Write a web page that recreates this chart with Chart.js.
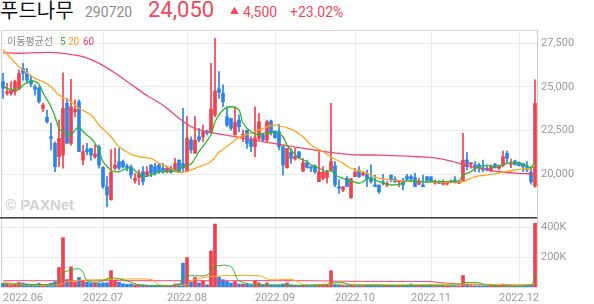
<!DOCTYPE html>
<html>
<head>
<meta charset="utf-8">
<script src="https://cdn.jsdelivr.net/npm/chart.js@4.4.1/dist/chart.umd.min.js"></script>
<style>
  html, body { margin: 0; padding: 0; background: #fff; }
  body { width: 594px; height: 304px; position: relative; overflow: hidden; font-family: Roboto, "Noto Sans CJK KR", sans-serif; }
  .abs { position: absolute; white-space: nowrap; line-height: 1; }
  #priceBox { position: absolute; left: 0; top: 30px; width: 594px; height: 187px; z-index: 1; }
  #volBox { position: absolute; left: 0; top: 217px; width: 594px; height: 87px; z-index: 1; }
  .over { z-index: 2; }
</style>
</head>
<body>
<div class="abs" style="left:0;top:0;font-size:20px;font-family:'Noto Sans CJK KR';color:#111">푸드나무</div>
<div class="abs" style="left:85px;top:5px;font-size:14px;color:#8c8c8c">290720</div>
<div class="abs" style="left:148px;top:-1px;font-size:22px;color:#f0475a">24,050</div>
<div class="abs" style="left:230px;top:7px;font-size:9px;color:#f0475a">▲</div>
<div class="abs" style="left:243px;top:5px;font-size:14px;color:#f0475a">4,500</div>
<div class="abs" style="left:290px;top:5px;font-size:14px;color:#f0475a">+23.02%</div>

<div class="abs" style="left:5px;top:197px;font:bold 15px/1 'Liberation Sans';color:#d2d2d2">© PAXNet</div>

<div id="priceBox"><canvas id="price" width="594" height="187"></canvas></div>
<div id="volBox"><canvas id="volume" width="594" height="87"></canvas></div>

<div class="abs over" style="left:7px;top:36px;font-size:10px;font-family:'Noto Sans CJK KR';color:#8c8c8c">이동평균선</div>
<div class="abs over" style="left:60px;top:37px;font-size:10px;color:#2fb52f">5</div>
<div class="abs over" style="left:68px;top:37px;font-size:10px;color:#ffa51f">20</div>
<div class="abs over" style="left:83px;top:37px;font-size:10px;color:#ee3b6a">60</div>

<script>
// 월 눈금 (거래일 인덱스)
const monthLabels = ['2022.06', '2022.07', '2022.08', '2022.09', '2022.10', '2022.11', '2022.12'];
const monthStart = [5, 25, 46, 68, 88, 107, 129];
const priceTicks = [20000, 22500, 25000, 27500];
const volumeTicks = [200000, 400000];

// 일봉 (시가/고가/저가/종가)
const openP = [25300, 24630, 24630, 24720, 24920, 26070, 25780, 25390, 25010, 24920,
  23770, 23250, 22140, 21760, 20990, 21090, 24060, 21760, 23570, 24150,
  20800, 21420, 21470, 20990, 21570, 20380, 19270, 18510, 20330, 20710,
  20710, 20460, 20420, 19620, 19790, 20130, 19940, 20520, 20420, 20520,
  20330, 20130, 20330, 20230, 20800, 20600, 20130, 21950, 21190, 22140,
  22140, 22470, 22430, 23390, 24880, 24630, 23290, 23200, 22240, 23100,
  22140, 22520, 21950, 21570, 22050, 22240, 21950, 23040, 22470, 22430,
  21570, 20360, 21250, 20860, 21280, 20170, 20650, 20420, 20460, 19560,
  19750, 19790, 20230, 20460, 19270, 19080, 19750, 18640, 19850, 20170,
  19940, 19980, 19790, 19370, 19370, 19560, 19370, 19940, 19710, 19560,
  19660, 19850, 19850, 19790, 19410, 19370, 19850, 19830, 19470, 19560,
  19410, 19410, 19520, 19660, 19470, 19560, 20800, 20560, 20520, 20520,
  20360, 20330, 20170, 20560, 20330, 20480, 21190, 20560, 20750, 20670,
  20610, 20420, 20100, 19300];
const highP = [25780, 25200, 25300, 25390, 25970, 26350, 26070, 25680, 25110, 25010,
  24060, 23670, 22910, 21850, 23100, 25810, 24340, 25430, 24250, 24250,
  21660, 21760, 21470, 21660, 21660, 20420, 19850, 21400, 21470, 21470,
  20800, 20570, 20520, 20040, 20230, 20420, 20420, 20520, 20610, 20610,
  20610, 20460, 20460, 20900, 20800, 23770, 23290, 22140, 23290, 22620,
  22810, 22520, 26350, 27790, 25870, 25110, 23860, 23200, 23860, 23390,
  22520, 22520, 22140, 23860, 23480, 22340, 23100, 23100, 22470, 22850,
  21570, 21470, 21470, 21470, 21280, 20900, 20800, 20420, 20520, 21280,
  20420, 20230, 24060, 20710, 19660, 19270, 19850, 19750, 20330, 20420,
  20110, 20230, 20520, 19940, 19370, 19980, 19560, 19940, 19850, 19640,
  19750, 19980, 19940, 20040, 19750, 19940, 19850, 19850, 19660, 19620,
  19660, 19600, 19660, 19850, 19620, 22340, 21250, 20650, 20710, 20610,
  20800, 20520, 20520, 20610, 20520, 21320, 21320, 20860, 20800, 20700,
  20610, 20710, 20420, 25400];
const lowP = [24340, 24530, 24530, 24530, 24820, 25390, 25200, 25010, 24530, 24060,
  23570, 22910, 21380, 20130, 20420, 20330, 21760, 21660, 23290, 21280,
  20520, 21090, 20800, 20900, 20330, 19180, 18120, 18510, 20230, 20230,
  20330, 20170, 19750, 19470, 19370, 19370, 19850, 19850, 19940, 20040,
  20040, 20060, 20040, 20230, 20130, 20130, 20130, 21190, 21190, 21850,
  21850, 22240, 22340, 23290, 24340, 23860, 22710, 22520, 22240, 22430,
  21850, 21470, 21280, 20990, 21950, 21850, 21850, 22240, 22050, 21380,
  19940, 20330, 20610, 20800, 20900, 20130, 20330, 20130, 20040, 19560,
  19660, 19470, 20130, 19270, 18890, 18980, 19270, 18600, 19850, 19790,
  19890, 19270, 19470, 19270, 18890, 19370, 19270, 19560, 19520, 19270,
  19080, 19660, 19560, 19270, 19370, 19270, 19560, 19540, 19410, 19440,
  19370, 19380, 19490, 19470, 19440, 19560, 20230, 20330, 20130, 20100,
  20130, 20170, 20130, 20330, 20230, 20420, 20610, 20360, 20520, 20460,
  20130, 20130, 19410, 19250];
const closeP = [24920, 24720, 24820, 25300, 25780, 25780, 25390, 25160, 24860, 24150,
  23960, 23000, 22050, 20420, 22050, 23770, 21760, 23860, 23710, 21280,
  21280, 21280, 21090, 21150, 20520, 19270, 18800, 20100, 20520, 20330,
  20420, 20370, 19940, 19750, 20040, 19560, 20130, 20040, 20040, 20130,
  20130, 20330, 20130, 20610, 20130, 20350, 22050, 21380, 21950, 21950,
  22430, 22340, 23730, 24760, 24690, 24150, 22810, 22620, 22970, 22710,
  22280, 21760, 21570, 22080, 23000, 21950, 23000, 22340, 22080, 21570,
  20520, 21470, 20900, 20990, 20940, 20650, 20360, 20330, 20130, 20130,
  20100, 20130, 20710, 19370, 19180, 19270, 19270, 19710, 20100, 19850,
  20040, 19750, 19560, 19270, 18980, 19470, 19470, 19660, 19560, 19640,
  19370, 19710, 19710, 19270, 19600, 19270, 19560, 19600, 19600, 19470,
  19560, 19560, 19600, 19520, 19560, 20800, 20420, 20650, 20330, 20360,
  20230, 20230, 20420, 20360, 20460, 20990, 20900, 20610, 20520, 20480,
  20420, 20230, 19550, 24050];

// 거래량
const volume = [24000, 18000, 15000, 20000, 30000, 26000, 20000, 16000, 14000, 24000,
  12000, 18000, 26000, 35000, 131000, 331000, 50000, 135000, 33000, 64000,
  42000, 31000, 27000, 25000, 24000, 28000, 28000, 109000, 42000, 31000,
  22000, 18000, 20000, 15000, 15000, 14000, 12000, 10000, 10000, 10000,
  10000, 12000, 10000, 20000, 22000, 160000, 197000, 33000, 64000, 27000,
  42000, 15000, 242000, 422000, 67000, 49000, 37000, 27000, 37000, 20000,
  20000, 20000, 15000, 42000, 27000, 15000, 27000, 15000, 15000, 15000,
  20000, 27000, 15000, 12000, 12000, 14000, 10000, 9000, 10000, 15000,
  12000, 12000, 109000, 20000, 15000, 10000, 10000, 12000, 10000, 9000,
  8000, 12000, 12000, 10000, 14000, 8000, 7000, 9000, 7000, 7000,
  9000, 7000, 20000, 10000, 8000, 8000, 7000, 6000, 6000, 6000,
  5000, 6000, 6000, 6000, 6000, 77000, 15000, 9000, 8000, 8000,
  7000, 6000, 7000, 6000, 6000, 20000, 10000, 7000, 6000, 6000,
  6000, 7000, 12000, 427000];

// 이동평균선 (그림에서 읽은 값: [거래일 인덱스, 값])
const ma5 = [[0, 25010], [2, 24860], [4, 24850], [5, 25110], [7, 25350], [8, 25300], [9, 25160], [10, 24660],
  [12, 23860], [13, 23290], [14, 22620], [15, 22430], [17, 22240], [18, 22520], [19, 22710], [20, 22430],
  [22, 22050], [23, 21760], [24, 21380], [25, 20710], [27, 20230], [28, 20130], [29, 20130], [30, 20230],
  [32, 20380], [33, 20190], [34, 20000], [35, 19850], [37, 19940], [39, 20130], [42, 20130], [44, 20230],
  [45, 20420], [47, 20570], [49, 21280], [52, 22250], [53, 23000], [55, 23670], [57, 23860], [59, 23670],
  [60, 22910], [62, 22430], [64, 22240], [65, 22340], [67, 22360], [68, 22430], [70, 22140], [71, 21660],
  [72, 21380], [74, 20900], [76, 20710], [77, 20520], [79, 20330], [81, 20130], [82, 20230], [83, 19940],
  [85, 19750], [87, 19600], [89, 19470], [90, 19560], [91, 19710], [92, 19750], [94, 19560], [96, 19410],
  [97, 19370], [99, 19410], [101, 19600], [102, 19600], [104, 19560], [106, 19520], [107, 19560], [112, 19560],
  [114, 19600], [115, 19940], [117, 20130], [118, 20330], [120, 20480], [122, 20460], [123, 20420], [126, 20610],
  [127, 20670], [129, 20610], [131, 20480], [132, 20360], [133, 20710]];
const ma20 = [[0, 27150], [2, 26640], [4, 26160], [6, 25810], [8, 25490], [10, 25300], [12, 25010], [14, 24530],
  [17, 24150], [19, 23770], [22, 23390], [24, 22810], [27, 22140], [29, 21570], [32, 21150], [34, 20990],
  [37, 20900], [39, 20610], [42, 20330], [44, 20080], [47, 20230], [49, 20420], [52, 20700], [54, 21250],
  [57, 21750], [59, 22100], [62, 22340], [64, 22520], [67, 22770], [68, 22810], [72, 22580], [75, 22140],
  [77, 21660], [80, 21280], [82, 20990], [85, 20610], [87, 20330], [90, 20130], [92, 19940], [94, 19750],
  [97, 19660], [101, 19600], [104, 19560], [112, 19520], [115, 19560], [118, 19850], [122, 19980], [125, 20100],
  [128, 20230], [132, 20330], [133, 20520]];
const ma60 = [[0, 26960], [4, 26930], [8, 26960], [12, 26980], [16, 26890], [20, 26730], [24, 26350], [28, 25800],
  [32, 25150], [36, 24500], [40, 23950], [44, 23200], [48, 22600], [52, 22380], [56, 22220], [60, 22060],
  [64, 21900], [68, 21740], [72, 21590], [76, 21440], [80, 21300], [84, 21180], [88, 21100], [92, 21090],
  [96, 21070], [100, 21040], [104, 20990], [108, 20920], [112, 20740], [116, 20480], [120, 20290], [124, 20130],
  [128, 20050], [133, 20000]];

// 거래량 이동평균
const vma5 = [[0, 22000], [13, 20000], [14, 49000], [15, 93000], [17, 115000], [19, 122000], [20, 100000], [21, 42000],
  [24, 33000], [27, 62000], [31, 42000], [34, 15000], [44, 15000], [45, 69000], [47, 75000], [51, 80000],
  [53, 137000], [57, 137000], [59, 42000], [64, 15000], [81, 15000], [82, 30000], [85, 30000], [87, 13000],
  [114, 13000], [115, 28000], [119, 28000], [121, 12000], [132, 12000], [133, 93000]];
const vma20 = [[0, 33000], [5, 15000], [14, 15000], [16, 35000], [19, 45000], [24, 49000], [37, 51000], [39, 15000],
  [46, 15000], [47, 42000], [52, 71000], [64, 75000], [67, 49000], [72, 51000], [74, 33000], [75, 15000],
  [82, 20000], [99, 15000], [117, 20000], [132, 14000], [133, 28000]];
const vma60 = [[0, 42000], [25, 42000], [50, 42000], [75, 42000], [82, 40000], [90, 38000], [107, 36000],
  [110, 27000], [115, 20000], [118, 15000], [132, 15000], [133, 22000]];

const upColor = '#f2404f';
const downColor = '#2b84e8';
const ma5Color = '#2fb52f';
const ma20Color = '#ffa51f';
const ma60Color = '#f2476a';

const idx = openP.map((_, i) => i);
const candleColors = idx.map(i => (closeP[i] >= openP[i] ? upColor : downColor));
const wickData = idx.map(i => ({ x: i, y: [lowP[i], highP[i]] }));
const bodyData = idx.map(i => ({ x: i, y: [openP[i], closeP[i]] }));
const volData = idx.map(i => ({ x: i, y: volume[i] }));
const toPts = arr => arr.map(([x, y]) => ({ x, y }));

function lineSet(points, color, width) {
  return {
    type: 'line', data: toPts(points), borderColor: color, borderWidth: width,
    pointRadius: 0, tension: 0.3, order: 0
  };
}

function monthAxis(showLabels) {
  return {
    type: 'linear', min: -0.5, max: 133.5, offset: false,
    afterBuildTicks: s => { s.ticks = monthStart.map(v => ({ value: v })); },
    ticks: {
      display: showLabels, autoSkip: false, maxRotation: 0, padding: 5,
      color: '#9a9a9a', font: { family: 'Roboto', size: 11 },
      callback: v => monthLabels[monthStart.indexOf(v)]
    },
    grid: { color: '#ececec', drawTicks: false, offset: false },
    border: { display: showLabels, color: '#dcdcdc' },
    afterFit: s => { s.height = showLabels ? 17 : 0; s.paddingLeft = 0; s.paddingRight = 0; }
  };
}

function rightAxis(min, max, ticks, fmt) {
  return {
    position: 'right', min: min, max: max,
    afterBuildTicks: s => { s.ticks = ticks.map(v => ({ value: v })); },
    ticks: { color: '#9a9a9a', font: { family: 'Roboto', size: 11 }, padding: 4, callback: fmt },
    grid: { color: '#ececec', drawTicks: false },
    border: { display: true, color: '#c9c9c9' },
    afterFit: s => { s.width = 57; s.paddingTop = 0; s.paddingBottom = 0; }
  };
}

// 차트 영역 테두리 + 구분선
const framePlugin = {
  id: 'frame',
  beforeDatasetsDraw(chart, args, opts) {
    const { ctx, chartArea: a } = chart;
    ctx.save();
    ctx.strokeStyle = '#d3d3d3';
    ctx.lineWidth = 1;
    ctx.beginPath();
    ctx.moveTo(a.left + 0.5, a.top);
    ctx.lineTo(a.left + 0.5, a.bottom);
    if (opts.top) {
      ctx.moveTo(a.left, a.top + 0.5);
      ctx.lineTo(a.right, a.top + 0.5);
    }
    ctx.stroke();
    ctx.restore();
  },
  afterDatasetsDraw(chart, args, opts) {
    if (!opts.separator) return;
    const { ctx, chartArea: a } = chart;
    ctx.save();
    ctx.fillStyle = '#444';
    ctx.fillRect(0, a.top, a.right, 1.6);
    ctx.restore();
  }
};

const common = {
  responsive: false,
  animation: false,
  layout: { padding: { left: 1, right: 0, top: 0, bottom: 0 } },
  plugins: { legend: { display: false }, tooltip: { enabled: false } }
};

new Chart(document.getElementById('price').getContext('2d'), {
  type: 'bar',
  data: {
    datasets: [
      lineSet(ma5, ma5Color, 1.3),
      lineSet(ma20, ma20Color, 1.3),
      lineSet(ma60, ma60Color, 1.3),
      { type: 'bar', data: bodyData, backgroundColor: candleColors, barThickness: 3, grouped: false, minBarLength: 1, order: 1 },
      { type: 'bar', data: wickData, backgroundColor: candleColors, barThickness: 1, grouped: false, order: 2 }
    ]
  },
  options: {
    ...common,
    plugins: { ...common.plugins, frame: { top: true } },
    scales: {
      x: monthAxis(false),
      y: rightAxis(17533, 28263, priceTicks, v => v.toLocaleString('en-US'))
    }
  },
  plugins: [framePlugin]
});

new Chart(document.getElementById('volume').getContext('2d'), {
  type: 'bar',
  data: {
    datasets: [
      lineSet(vma5, ma5Color, 1),
      lineSet(vma20, ma20Color, 1),
      lineSet(vma60, ma60Color, 1),
      { type: 'bar', data: volData, backgroundColor: candleColors, barThickness: 3, grouped: false, order: 1 }
    ]
  },
  options: {
    ...common,
    plugins: { ...common.plugins, frame: { separator: true } },
    scales: {
      x: monthAxis(true),
      y: rightAxis(0, 469000, volumeTicks, v => (v / 1000) + 'K')
    }
  },
  plugins: [framePlugin]
});
</script>
</body>
</html>
